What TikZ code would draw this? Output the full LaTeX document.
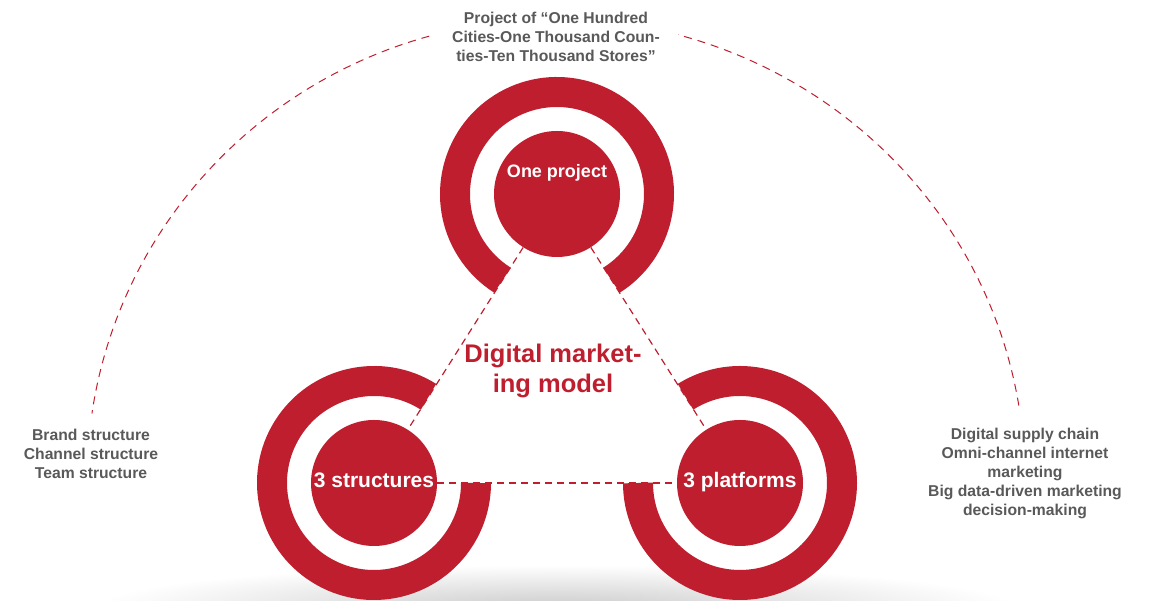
\documentclass[tikz,border=0pt]{standalone}
\usepackage{fontspec}
\setmainfont{Liberation Sans}
\usetikzlibrary{positioning}
\definecolor{mkred}{RGB}{190,30,45}
\definecolor{mkgrey}{RGB}{89,89,89}

\begin{document}
\begin{tikzpicture}[x=1pt,y=1pt
                   ,disk/.style={circle,fill=mkred,minimum size=126pt,inner sep=0pt,text depth=6pt
                                ,text=white,font=\bfseries\fontsize{21}{25}\selectfont}
                   ,ring/.style={draw=mkred,line width=30pt}
                   ,link/.style={draw=mkred,line width=1.2pt,dash pattern=on 7pt off 5pt}
                   ,greytext/.style={text=mkgrey,align=center
                                    ,font=\bfseries\fontsize{15.7}{19}\selectfont}]
\useasboundingbox (0,0) rectangle (1154,601);
% soft shadow under the rings
\begin{scope}
  \clip (0,0) rectangle (1154,601);
  \shade[inner color=black!20,outer color=white] (556,-6) ellipse [x radius=460,y radius=42];
\end{scope}
% big dashed arc round the model
\coordinate (arcc) at (556,121);
\draw[link,line width=1pt,dash pattern=on 8pt off 6pt]
  ([shift={(9.3:469 and 461)}]arcc) arc[start angle=9.3,end angle=171.7,x radius=469,y radius=461];

\node[disk] (proj) at (557,407) {};
\node[disk] (struct) at (374,118) {3 structures};
\node[disk] (platf) at (740,118) {3 platforms};

\draw[ring] ([shift={(-57.7:102)}]proj.center) arc[start angle=-57.7,end angle=237.7,radius=102];
\draw[ring] ([shift={(57.7:102)}]struct.center) arc[start angle=57.7,end angle=360,radius=102];
\draw[ring] ([shift={(180:102)}]platf.center) arc[start angle=180,end angle=482.3,radius=102];

\path[link]
  (proj) edge (struct)
  (proj) edge (platf)
  (struct) edge (platf)
  ;

\node[text=white,font=\bfseries\fontsize{18}{22}\selectfont] (projtxt) at ([yshift=21pt]proj.center) {One project};
\node[text=mkred,align=center,font=\bfseries\fontsize{25.5}{30}\selectfont] (model) at (553,230) {Digital market-\\ing model};

\node[greytext,fill=white,inner xsep=18pt,inner ysep=2pt] (projtitle) at (556,564)
  {Project of “One Hundred\\Cities-One Thousand Coun-\\ties-Ten Thousand Stores”};
\node[greytext] (structlist) at (91,147) {Brand structure\\Channel structure\\Team structure};
\node[greytext] (platflist) at (1025,128)
  {Digital supply chain\\Omni-channel internet\\marketing\\Big data-driven marketing\\decision-making};
\end{tikzpicture}
\end{document}
